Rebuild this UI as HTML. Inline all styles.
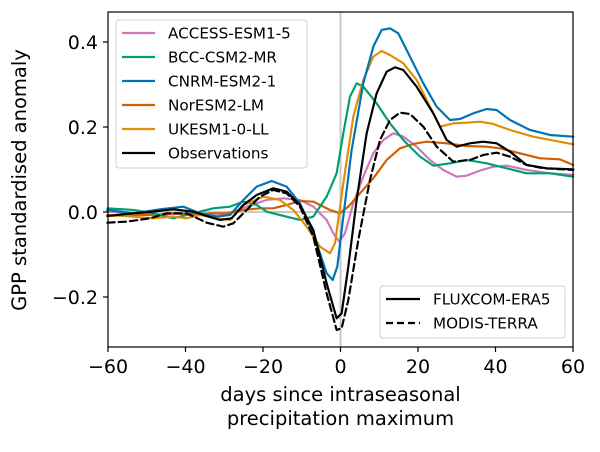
<!DOCTYPE html>
<html><head><meta charset="utf-8"><style>
body{margin:0;background:#fff;width:600px;height:447px;overflow:hidden}
svg{font-family:"DejaVu Sans","Liberation Sans",sans-serif}
</style></head><body>
<svg width="600" height="447" viewBox="0 0 600 447">
<g stroke="#c8c8c8" stroke-width="2"><line x1="340.5" y1="12" x2="340.5" y2="347"/><line x1="108" y1="212" x2="573" y2="212"/></g>
<g transform="translate(100,0) scale(0.3333)" fill="none" stroke-width="6.5" stroke-linejoin="round" stroke-linecap="round">
<polyline stroke="#cc78bc" points="22,635 100,640 180,645 250,640 300,640 350,648 390,640 440,620 500,600 550,595 600,600 640,620 680,660 700,700 718,725 735,700 760,610 790,530 820,460 850,420 880,400 910,410 950,440 990,480 1030,510 1070,530 1100,527 1140,512 1180,500 1220,497 1280,510 1350,520 1420,525"/>
<polyline stroke="#d55e00" points="22,648 100,645 160,645 220,640 280,645 330,640 380,640 430,630 480,625 520,625 560,615 600,603 640,605 690,630 720,640 745,620 780,580 820,535 860,480 900,445 940,432 980,425 1040,430 1100,438 1160,440 1200,445 1260,460 1320,475 1380,478 1420,495"/>
<polyline stroke="#029e73" points="22,625 100,630 160,640 220,655 280,640 340,625 390,620 430,605 470,615 500,635 560,650 600,660 640,650 680,590 710,520 730,400 750,290 770,250 790,260 830,310 870,370 910,420 960,470 1000,497 1050,490 1100,480 1160,490 1220,505 1280,520 1350,520 1420,530"/>
<polyline stroke="#de8f05" points="22,645 100,650 160,655 220,650 260,655 300,645 350,655 390,660 430,615 490,590 540,600 580,630 620,680 660,740 690,760 705,730 730,550 760,350 790,240 820,170 845,153 870,165 910,190 950,240 990,320 1020,380 1060,370 1100,368 1140,365 1180,372 1230,390 1300,410 1420,433"/>
<polyline stroke="#0173b2" points="22,630 100,640 180,628 250,620 300,640 350,650 390,645 430,600 470,560 515,543 560,560 600,610 640,700 680,820 698,840 712,800 730,650 755,450 790,250 820,140 845,90 870,85 895,100 930,170 970,250 1010,320 1050,360 1080,357 1120,340 1160,327 1190,330 1230,360 1290,390 1350,405 1420,410"/>
<polyline stroke="#000" stroke-dasharray="22,12" points="22,668 80,665 150,655 200,640 260,640 320,668 370,680 400,670 440,630 480,590 520,570 560,580 600,620 640,710 680,880 710,990 725,985 745,900 775,720 810,540 840,420 870,360 900,338 930,342 970,380 1010,440 1060,485 1110,480 1150,465 1190,458 1230,470 1280,495 1330,505 1420,510"/>
<polyline stroke="#000" points="22,648 100,640 150,636 220,628 280,635 320,648 360,660 395,655 430,615 470,585 520,565 560,575 600,615 640,690 680,850 710,955 725,940 745,800 770,600 800,400 830,280 860,215 885,202 910,210 950,260 1000,340 1040,420 1070,440 1110,430 1150,425 1190,430 1230,455 1280,495 1340,505 1420,508"/>
</g>
<rect x="108" y="12" width="465" height="335" fill="none" stroke="#000" stroke-width="1.2"/>
<g stroke="#000" stroke-width="1.2">
<line x1="103" y1="42" x2="108" y2="42"/><line x1="103" y1="127" x2="108" y2="127"/><line x1="103" y1="212" x2="108" y2="212"/><line x1="103" y1="297" x2="108" y2="297"/>
<line x1="108" y1="347" x2="108" y2="352"/><line x1="185.5" y1="347" x2="185.5" y2="352"/><line x1="263" y1="347" x2="263" y2="352"/><line x1="340.5" y1="347" x2="340.5" y2="352"/><line x1="418" y1="347" x2="418" y2="352"/><line x1="495.5" y1="347" x2="495.5" y2="352"/><line x1="573" y1="347" x2="573" y2="352"/>
</g>
<g font-size="19" fill="#000" text-anchor="end">
<text x="98" y="49">0.4</text><text x="98" y="134">0.2</text><text x="98" y="219">0.0</text><text x="98" y="304">−0.2</text>
</g>
<g font-size="19" fill="#000" text-anchor="middle">
<text x="108" y="373">−60</text><text x="185.5" y="373">−40</text><text x="263" y="373">−20</text><text x="340.5" y="373">0</text><text x="418" y="373">20</text><text x="495.5" y="373">40</text><text x="573" y="373">60</text>
</g>
<g font-size="19.5" text-anchor="middle">
<text x="340.5" y="401">days since intraseasonal</text>
<text x="340.5" y="425">precipitation maximum</text>
<text transform="translate(26,180) rotate(-90)">GPP standardised anomaly</text>
</g>
<rect x="116" y="20" width="191" height="148" rx="3" fill="#fff" fill-opacity="0.85" stroke="#d0d0d0"/>
<g stroke-width="2.2">
<line x1="122" y1="33" x2="155" y2="33" stroke="#cc78bc"/>
<line x1="122" y1="57" x2="155" y2="57" stroke="#029e73"/>
<line x1="122" y1="81" x2="155" y2="81" stroke="#0173b2"/>
<line x1="122" y1="105" x2="155" y2="105" stroke="#d55e00"/>
<line x1="122" y1="129" x2="155" y2="129" stroke="#de8f05"/>
<line x1="122" y1="153" x2="155" y2="153" stroke="#000"/>
</g>
<g font-size="15.2">
<text x="168" y="38.5">ACCESS-ESM1-5</text><text x="168" y="62.5">BCC-CSM2-MR</text><text x="168" y="86.5">CNRM-ESM2-1</text><text x="168" y="110.5">NorESM2-LM</text><text x="168" y="134.5">UKESM1-0-LL</text><text x="168" y="158.5">Observations</text>
</g>
<rect x="380" y="286" width="185" height="52" rx="3" fill="#fff" fill-opacity="0.85" stroke="#d0d0d0"/>
<line x1="386" y1="299" x2="420" y2="299" stroke="#000" stroke-width="2.2"/>
<line x1="386" y1="323" x2="420" y2="323" stroke="#000" stroke-width="2.2" stroke-dasharray="7,4"/>
<g font-size="15.2"><text x="433" y="304.5">FLUXCOM-ERA5</text><text x="433" y="328.5">MODIS-TERRA</text></g>
</svg>
</body></html>
